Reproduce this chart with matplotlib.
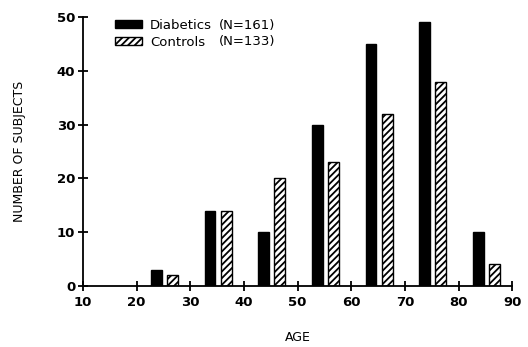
import numpy as np
import matplotlib.pyplot as plt

plt.rcParams['font.family'] = ['DejaVu Sans']
plt.rcParams['hatch.linewidth'] = 1.3

# age group starts
age_groups = [20, 30, 40, 50, 60, 70, 80]
diabetics = [3, 14, 10, 30, 45, 49, 10]
controls = [2, 14, 20, 23, 32, 38, 4]
n_diabetics = 161
n_controls = 133

fig = plt.figure(figsize=(5.28, 3.47), dpi=100)
ax = fig.add_axes([0.157, 0.176, 0.813, 0.775])

x = np.array(age_groups)
w = 2.0
ax.bar(x + 3.7, diabetics, width=w, color='black', edgecolor='black',
       linewidth=1, label='Diabetics')
ax.bar(x + 6.7, controls, width=w, color='white', edgecolor='black',
       linewidth=1, hatch='/////', label='Controls')

ax.set_xlim(10, 90)
ax.set_ylim(0, 50)
ax.set_xticks(range(10, 91, 10))
ax.set_yticks(range(0, 51, 10))
ax.spines['top'].set_visible(False)
ax.spines['right'].set_visible(False)
ax.spines['left'].set_linewidth(1.3)
ax.spines['bottom'].set_linewidth(1.3)
ax.tick_params(direction='inout', length=7, width=1.3, labelsize=9.5)
ax.tick_params(axis='x', pad=3.5)
ax.tick_params(axis='y', pad=2)
for lab in ax.get_xticklabels() + ax.get_yticklabels():
    lab.set_fontweight('bold')

ax.set_xlabel('AGE', fontsize=9, labelpad=16)
ax.set_ylabel('NUMBER OF SUBJECTS', fontsize=9, labelpad=22)

leg = ax.legend(loc='upper left', bbox_to_anchor=(115 / 528, 1 - 19 / 347),
                bbox_transform=fig.transFigure, frameon=False, borderpad=0,
                borderaxespad=0, handlelength=2.05, handleheight=0.55,
                handletextpad=0.6, labelspacing=0.3, fontsize=9.5)
fig.text(219 / 528, 1 - 25 / 347, f'(N={n_diabetics})', fontsize=9.5,
         va='center', ha='left')
fig.text(219 / 528, 1 - 42 / 347, f'(N={n_controls})', fontsize=9.5,
         va='center', ha='left')

plt.savefig('out.png', dpi=100)
